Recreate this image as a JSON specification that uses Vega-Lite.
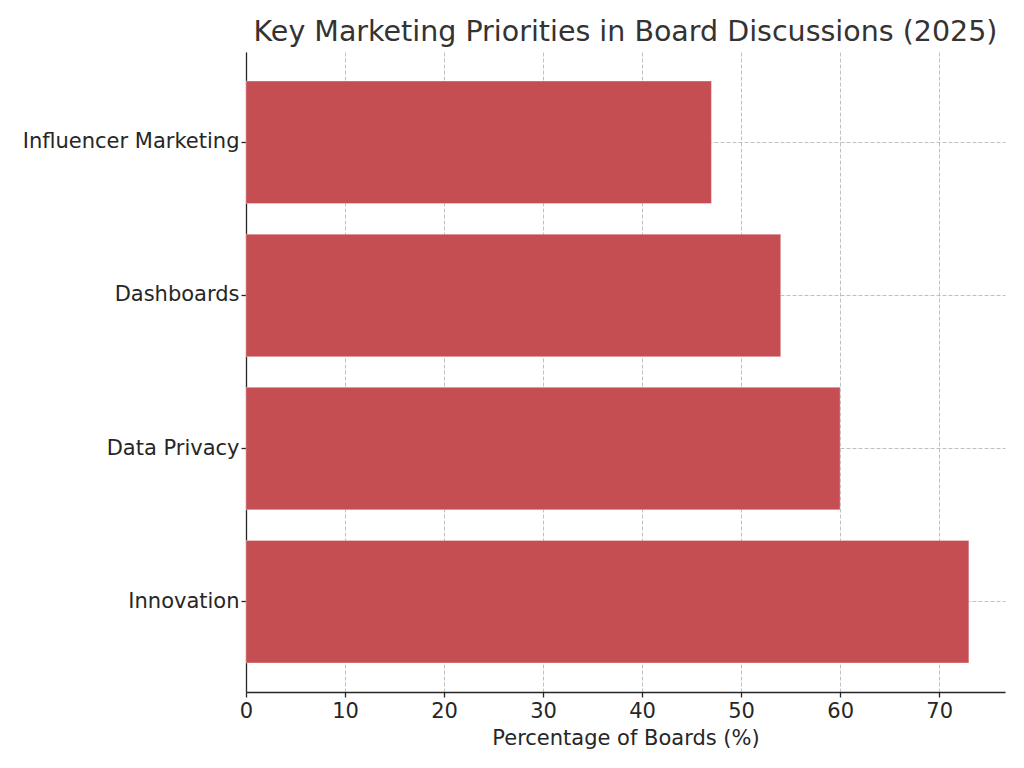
{
  "$schema": "https://vega.github.io/schema/vega-lite/v6.json",
  "width": 759,
  "height": 640,
  "autosize": "none",
  "padding": {"left": 246, "top": 52, "right": 19, "bottom": 76},
  "background": "white",
  "title": {
    "text": "Key Marketing Priorities in Board Discussions (2025)",
    "font": "DejaVu Sans",
    "fontSize": 28.5,
    "fontWeight": "normal",
    "color": "#333333",
    "anchor": "middle",
    "offset": 6
  },
  "config": {
    "view": {"stroke": null},
    "axis": {
      "labelFont": "DejaVu Sans",
      "titleFont": "DejaVu Sans",
      "labelFontSize": 21,
      "titleFontSize": 21,
      "titleFontWeight": "normal",
      "labelColor": "#262626",
      "titleColor": "#262626",
      "labelFlush": false,
      "labelLimit": 0,
      "domainColor": "#262626",
      "domainWidth": 1.3,
      "tickColor": "#262626",
      "tickSize": 5,
      "tickWidth": 1.3,
      "grid": true,
      "gridColor": "#b0b0b0",
      "gridOpacity": 1,
      "gridDash": [4, 2],
      "gridWidth": 0.8,
      "zindex": 1
    }
  },
  "data": {
    "values": [
      {"priority": "Influencer Marketing", "pct": 47},
      {"priority": "Dashboards", "pct": 54},
      {"priority": "Data Privacy", "pct": 60},
      {"priority": "Innovation", "pct": 73}
    ]
  },
  "mark": {"type": "bar", "color": "#C44E52", "stroke": "#ffffff", "strokeOpacity": 0.4, "strokeWidth": 0.8},
  "encoding": {
    "y": {
      "field": "priority",
      "type": "nominal",
      "sort": null,
      "scale": {"paddingInner": 0.2, "paddingOuter": 0.19},
      "axis": {"title": null, "labelPadding": 2}
    },
    "x": {
      "field": "pct",
      "type": "quantitative",
      "scale": {"domain": [0, 76.65], "nice": false},
      "axis": {
        "title": "Percentage of Boards (%)",
        "values": [0, 10, 20, 30, 40, 50, 60, 70],
        "labelPadding": 3,
        "titlePadding": 6
      }
    }
  }
}
